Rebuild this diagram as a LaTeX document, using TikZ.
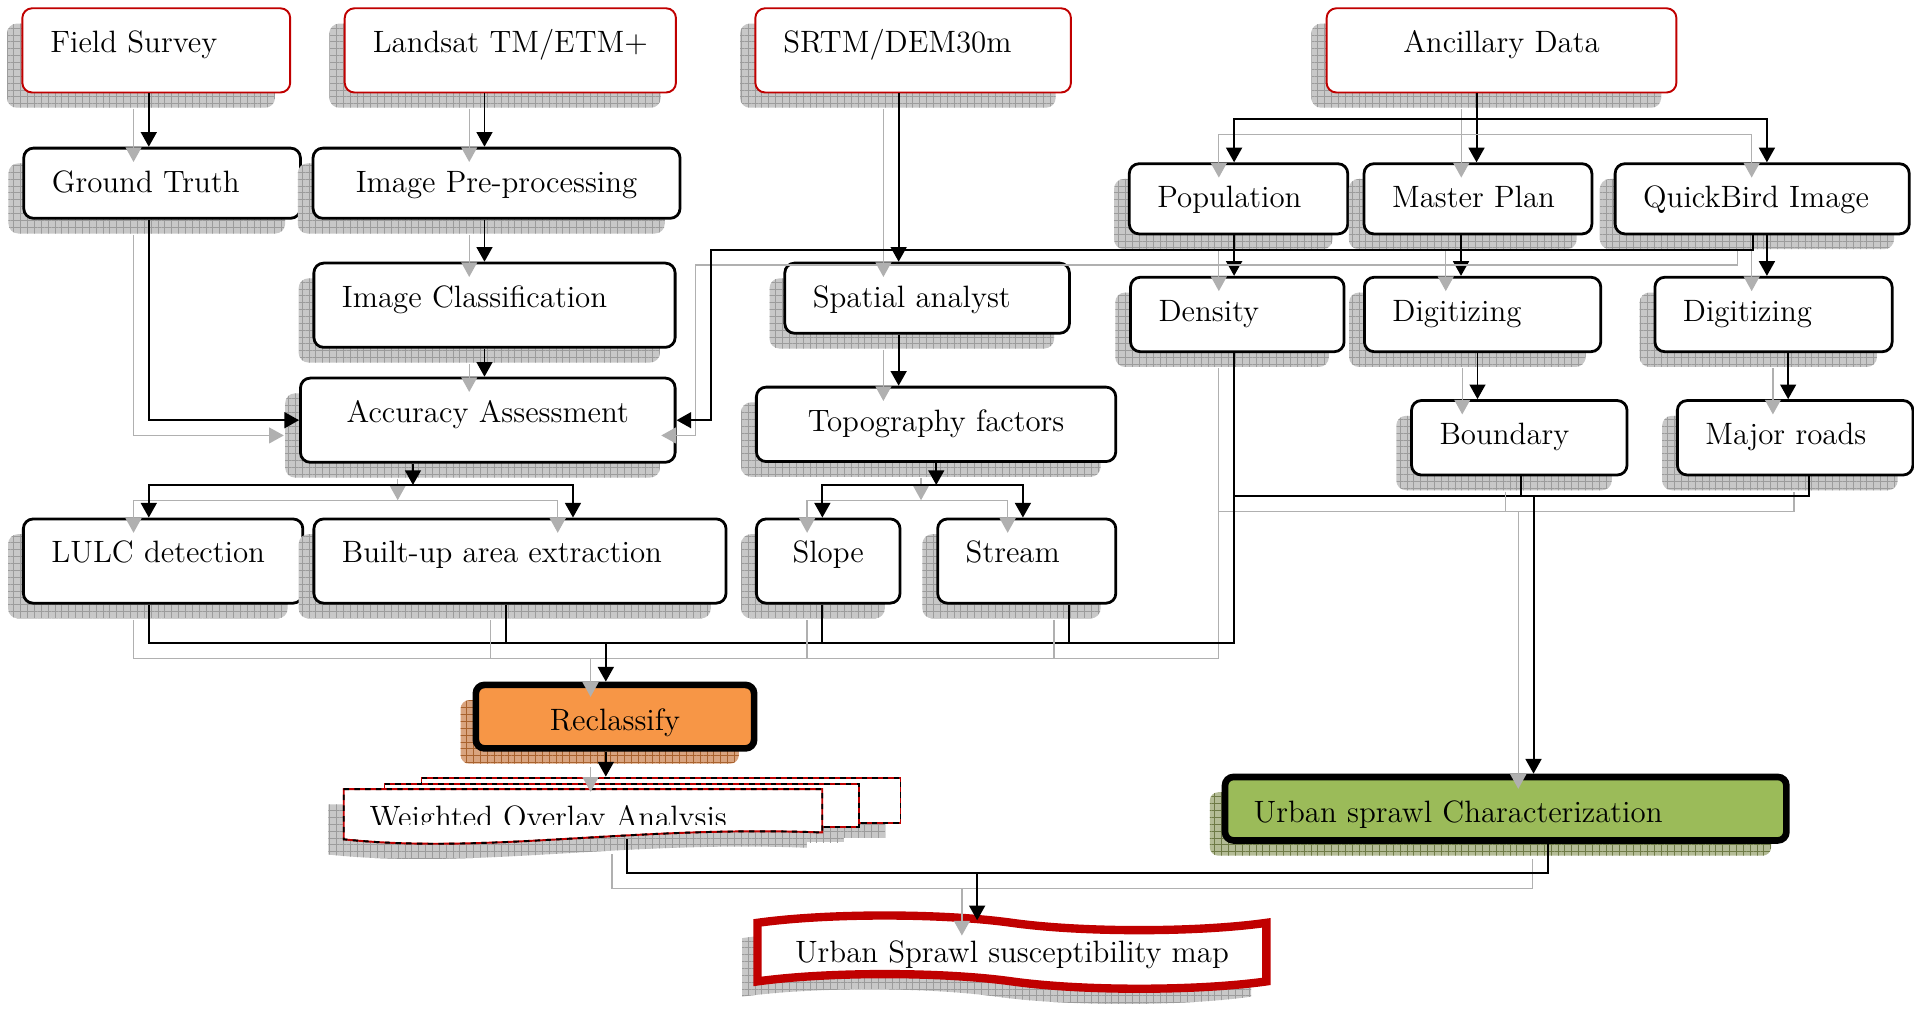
\documentclass[tikz,border=0pt]{standalone}
\usepackage{fontspec}
\usepackage{tikz}
\usetikzlibrary{arrows.meta,shadows,patterns.meta,shapes.symbols}
\definecolor{srcred}{HTML}{C00000}
\definecolor{recorange}{HTML}{F79646}
\definecolor{chargreen}{HTML}{9BBB59}
\definecolor{shgray}{HTML}{C8C8C8}
\definecolor{shgrid}{HTML}{9C9C9C}
\definecolor{shorange}{HTML}{D9A47F}
\definecolor{shorgrid}{HTML}{A8622E}
\definecolor{shgreen}{HTML}{B4BC96}
\definecolor{shgrgrid}{HTML}{6E7A46}
\definecolor{lnk}{HTML}{B0B0B0}
\tikzset{grayshadow/.style={general shadow={shadow xshift=-0.25cm, shadow yshift=-0.25cm, fill=shgray, postaction={pattern={Hatch[angle=0,distance=3.2pt,line width=0.3pt]}, pattern color=shgrid}}},
         orangeshadow/.style={general shadow={shadow xshift=-0.25cm, shadow yshift=-0.25cm, fill=shorange, postaction={pattern={Hatch[angle=0,distance=3.2pt,line width=0.3pt]}, pattern color=shorgrid}}},
         greenshadow/.style={general shadow={shadow xshift=-0.25cm, shadow yshift=-0.25cm, fill=shgreen, postaction={pattern={Hatch[angle=0,distance=3.2pt,line width=0.3pt]}, pattern color=shgrgrid}}},
         sbox/.style={rectangle, rounded corners=0.16cm, draw=black, line width=1.3pt, fill=white, inner xsep=0.46cm, inner ysep=0pt, align=left, text height=0.72cm, text depth=0.66cm, font=\fontsize{14.4}{17}\selectfont, grayshadow},
         src/.style={sbox, draw=srcred, line width=0.9pt},
         mid/.style={text depth=0.5cm},
         low/.style={text depth=0.43cm},
         hot/.style={rectangle, rounded corners=0.14cm, draw=black, line width=3.1pt, inner sep=0pt, minimum height=1.04cm, text height=0.6cm, text depth=0.14cm, font=\fontsize{14.4}{17}\selectfont},
         docpage/.style={draw=srcred, line width=0.9pt, fill=white, postaction={draw=black, line width=0.9pt, dash pattern=on 2.5pt off 2.5pt}, grayshadow},
         wire/.style={line width=0.9pt, preaction={draw=lnk, line width=0.6pt, transform canvas={shift={(-0.25cm,-0.25cm)}}}},
         arr/.style={wire, -{Triangle[length=0.24cm,width=0.26cm]}}}

\begin{document}
\begin{tikzpicture}[x=0.02cm, y=-0.02cm]
\useasboundingbox (0,0) rectangle (1568,827);
% data sources
\node[src, anchor=north west, text width=3.47cm] (fs) at (17.5,6) {Field Survey};
\node[src, anchor=north west, text width=4.508cm] (ls) at (281.6,6) {Landsat TM/ETM+};
\node[src, anchor=north west, text width=4.252cm] (srtm) at (618,6) {SRTM/DEM30m};
\node[src, anchor=north west, text width=4.812cm, align=center] (anc) at (1086,6) {Ancillary Data};
% second level
\node[sbox, low, anchor=north west, text width=3.614cm] (gt) at (18.3,120.2) {Ground Truth};
\node[sbox, low, anchor=north west, text width=5.094cm, align=center] (pre) at (255.3,120.2) {Image Pre-processing};
\node[sbox, low, anchor=north west, text width=2.66cm] (pop) at (924,133) {Population};
\node[sbox, low, anchor=north west, text width=2.814cm] (mp) at (1116.3,133) {Master Plan};
\node[sbox, low, anchor=north west, text width=3.9cm] (qb) at (1322,133) {QuickBird Image};
% processing
\node[sbox, anchor=north west, text width=5.0cm] (cls) at (256,214.4) {Image Classification};
\node[sbox, low, anchor=north west, text width=3.744cm] (spa) at (641.8,214.4) {Spatial analyst};
\node[sbox, mid, anchor=north west, text width=2.58cm] (den) at (925,226) {Density};
\node[sbox, mid, anchor=north west, text width=2.954cm] (dig1) at (1116.6,226) {Digitizing};
\node[sbox, mid, anchor=north west, text width=2.968cm] (dig2) at (1354.6,226) {Digitizing};
\node[sbox, anchor=north west, text width=5.22cm, align=center] (acc) at (245,308.6) {Accuracy Assessment};
\node[sbox, mid, anchor=north west, text width=4.97cm, align=center] (topo) at (618.5,316) {Topography factors};
\node[sbox, mid, anchor=north west, text width=2.612cm] (bnd) at (1155.2,327) {Boundary};
\node[sbox, mid, anchor=north west, text width=2.94cm] (road) at (1373,327) {Major roads};
\node[sbox, anchor=north west, text width=3.66cm] (lulc) at (18,424) {LULC detection};
\node[sbox, anchor=north west, text width=5.834cm] (bua) at (256,424) {Built-up area extraction};
\node[sbox, anchor=north west, text width=1.434cm, align=center] (slope) at (618.5,424) {Slope};
\node[sbox, anchor=north west, text width=2.0cm] (strm) at (767,424) {Stream};
% outputs
\node[hot, fill=recorange, orangeshadow, minimum width=4.56cm, align=center] (recl) at (503.8,587.1) {Reclassify};
\node[hot, fill=chargreen, greenshadow, text width=8.26cm, inner xsep=0.47cm, align=left] (usc) at (1233.5,662.5) {Urban sprawl Characterization};
\node[docpage, anchor=north west, minimum width=7.85cm, minimum height=0.738cm, inner sep=0pt] (woa3) at (344.5,636.2) {};
\node[docpage, anchor=north west, minimum width=7.774cm, minimum height=0.71cm, inner sep=0pt] (woa2) at (314.2,641.2) {};
\path[docpage] (281.6,646.4) -- (673.6,646.4) -- (673.6,682) .. controls (520,676) and (400,700) .. (281.6,687.6) -- cycle;
\begin{scope}
\clip (270,640) rectangle (690,675.5);
\node[anchor=base west, inner sep=0pt, font=\fontsize{14.4}{17}\selectfont] (woa) at (302.4,677.5) {Weighted Overlay Analysis};
\end{scope}
\node[tape, draw=srcred, line width=3.9pt, fill=white, grayshadow, tape bend top=out and in, tape bend bottom=out and in, tape bend height=0.24cm, minimum width=8.34cm, minimum height=1.2cm, inner sep=0pt, text height=0.5cm, text depth=0.156cm, font=\fontsize{14.4}{17}\selectfont] (map) at (829,780) {Urban Sprawl susceptibility map};
% junctions
\coordinate (ancsplit) at (1209.6,97.8);
\coordinate (qbturn) at (582.5,204.5);
\coordinate (accsplit) at (338.3,397.3);
\coordinate (toposplit) at (767,397.3);
\coordinate (uscjoin) at (1256.3,406.3);
\coordinate (recljoin) at (496.3,527);
\coordinate (woaout) at (513.8,687.5);
\coordinate (mapjoin) at (800.5,715.5);
% links
\draw[arr] (121.9,0 |- fs.south) -- (121.9,0 |- gt.north);
\draw[arr] (396.9,0 |- ls.south) -- (396.9,0 |- pre.north);
\draw[arr] (396.9,0 |- pre.south) -- (396.9,0 |- cls.north);
\draw[arr] (396.9,0 |- cls.south) -- (396.9,0 |- acc.north);
\draw[arr] (121.9,0 |- gt.south) |- (acc.west);
\draw[arr] (736.2,0 |- srtm.south) -- (736.2,0 |- spa.north);
\draw[arr] (736.2,0 |- spa.south) -- (736.2,0 |- topo.north);
\draw[arr] (1209.6,0 |- anc.south) -- (1209.6,0 |- mp.north);
\draw[arr] (ancsplit) -| (1011,0 |- pop.north);
\draw[arr] (ancsplit) -| (1447.5,0 |- qb.north);
\draw[arr] (1011,0 |- pop.south) -- (1011,0 |- den.north);
\draw[arr] (1196.9,0 |- mp.south) -- (1196.9,0 |- dig1.north);
\draw[arr] (1447.5,0 |- qb.south) -- (1447.5,0 |- dig2.north);
\draw[arr] (1436,0 |- qb.south) |- (qbturn) |- (acc.east);
\draw[arr] (1210.4,0 |- dig1.south) -- (1210.4,0 |- bnd.north);
\draw[arr] (1464.9,0 |- dig2.south) -- (1464.9,0 |- road.north);
\draw[wire] (1011,0 |- den.south) |- (1482.1,0 |- uscjoin) -- (1482.1,0 |- road.south);
\draw[wire] (1245.9,0 |- bnd.south) -- (1245.9,0 |- uscjoin);
\draw[arr] (uscjoin) -- (1256.3,0 |- usc.north);
\draw[arr] (338.3,0 |- acc.south) -- (accsplit);
\draw[arr] (accsplit) -| (121.9,0 |- lulc.north);
\draw[arr] (accsplit) -| (469.4,0 |- bua.north);
\draw[arr] (767,0 |- topo.south) -- (toposplit);
\draw[arr] (toposplit) -| (673.7,0 |- slope.north);
\draw[arr] (toposplit) -| (838,0 |- strm.north);
\draw[wire] (121.9,0 |- lulc.south) |- (1011,0 |- recljoin) -- (1011,0 |- uscjoin);
\draw[wire] (414.2,0 |- bua.south) -- (414.2,0 |- recljoin);
\draw[wire] (673.7,0 |- slope.south) -- (673.7,0 |- recljoin);
\draw[wire] (876,0 |- strm.south) -- (876,0 |- recljoin);
\draw[arr] (recljoin) -- (496.3,0 |- recl.north);
\draw[arr] (496.3,0 |- recl.south) -- (496.3,0 |- woa3.north);
\draw[wire] (woaout) |- (mapjoin) -| (1268.2,0 |- usc.south);
\draw[arr] (mapjoin) -- (800.5,0 |- map.north);
\end{tikzpicture}
\end{document}
